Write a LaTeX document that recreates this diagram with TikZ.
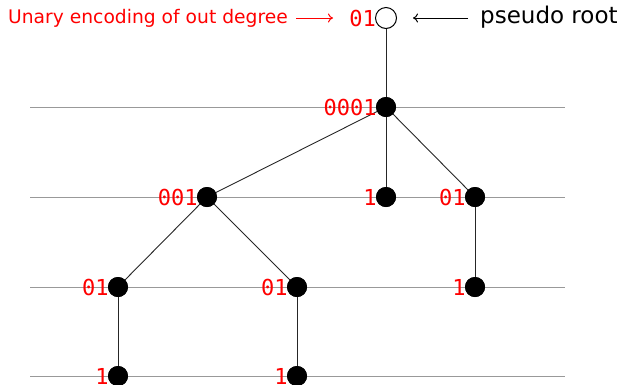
\documentclass[tikz,border=0pt]{standalone}
\usepackage{fontspec}
\usetikzlibrary{arrows.meta}
\setmainfont{DejaVu Sans}
\setmonofont{DejaVu Sans Mono}
\begin{document}
\begin{tikzpicture}[x=1pt,y=-1pt,
  level/.style={draw=gray!80, line width=0.9pt},
  edge/.style={draw=black!85, line width=0.9pt},
  dot/.style={circle, fill=black, inner sep=0pt, minimum size=20pt},
  rootdot/.style={circle, draw=black, fill=white, line width=1pt, inner sep=0pt, minimum size=21pt},
  code/.style={text=red, font=\ttfamily\fontsize{22}{22}\selectfont, inner sep=0pt, anchor=east},
  pointer/.style={line width=1pt, -{To[length=5pt,width=9pt]}}]
\useasboundingbox (0,0) rectangle (620,384);
% level lines
\foreach \y/\n in {107/a,197/b,287/c,376/d}
  \draw[level] (30,\y) coordinate (l\n) -- (565,\y) coordinate (r\n);
% nodes
\node[rootdot] (root) at (386,18) {};
\node[dot] (n1) at (386,107) {};
\node[dot] (n21) at (207,197) {};
\node[dot] (n22) at (386,197) {};
\node[dot] (n23) at (475,197) {};
\node[dot] (n31) at (118,287) {};
\node[dot] (n32) at (297,287) {};
\node[dot] (n33) at (475,287) {};
\node[dot] (n41) at (118,376) {};
\node[dot] (n42) at (297,376) {};
% edges
\draw[edge] (root) -- (n1);
\draw[edge] (n1.center) -- (n21.center);
\draw[edge] (n1.center) -- (n22.center);
\draw[edge] (n1.center) -- (n23.center);
\draw[edge] (n21.center) -- (n31.center);
\draw[edge] (n21.center) -- (n32.center);
\draw[edge] (n23.center) -- (n33.center);
\draw[edge] (n31.center) -- (n41.center);
\draw[edge] (n32.center) -- (n42.center);
% redraw dots over edges
\foreach \n in {n1,n21,n22,n23,n31,n32,n33,n41,n42}
  \fill (\n) circle (10pt);
% codes
\node[code] (c0) at ([xshift=1pt]root.west) {01};
\node[code] at ([xshift=1pt]n1.west) {0001};
\node[code] at ([xshift=1pt]n21.west) {001};
\node[code] at ([xshift=1pt]n22.west) {1};
\node[code] at ([xshift=1pt]n23.west) {01};
\node[code] at ([xshift=1pt]n31.west) {01};
\node[code] at ([xshift=1pt]n32.west) {01};
\node[code] at ([xshift=1pt]n33.west) {1};
\node[code] at ([xshift=1pt]n41.west) {1};
\node[code] at ([xshift=1pt]n42.west) {1};
% annotations
\node[text=red, font=\fontsize{18.7}{18.7}\selectfont, inner sep=0pt, anchor=west] (lab) at (8,18) {Unary encoding of out degree};
\coordinate (la) at (296,18);
\coordinate (lb) at (333,18);
\draw[red, pointer] (la) -- (lb);
\node[font=\fontsize{23}{23}\selectfont, inner sep=0pt, anchor=west] (pr) at (480,17) {pseudo root};
\coordinate (pa) at (468,18);
\draw[black, pointer] (pa) -- ([xshift=16pt]root.east |- pa);
\end{tikzpicture}
\end{document}
